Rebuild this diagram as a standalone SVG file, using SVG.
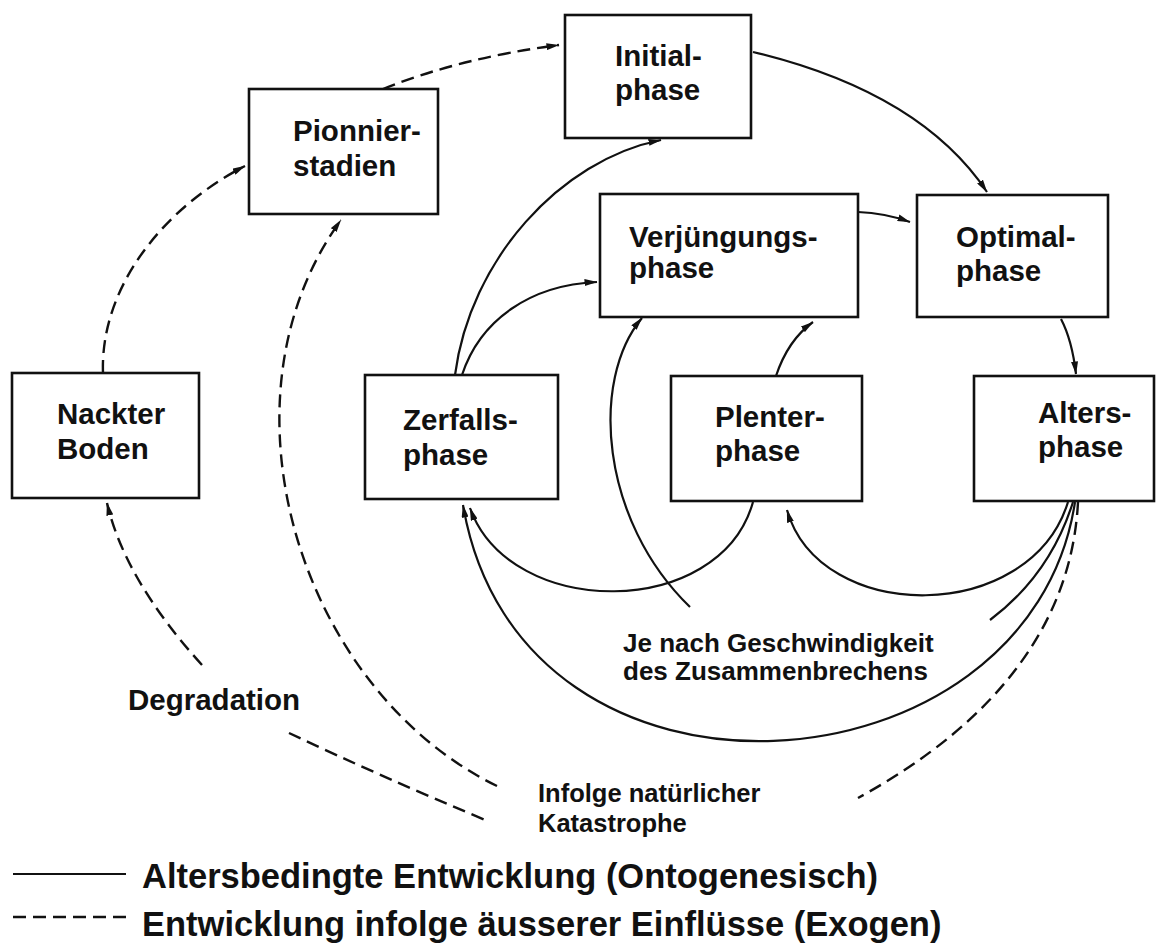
<svg xmlns="http://www.w3.org/2000/svg" width="1158" height="943" viewBox="0 0 1158 943">
<defs>
<marker id="arr" viewBox="0 0 13 7" refX="12.5" refY="3.5" markerWidth="13" markerHeight="7" markerUnits="userSpaceOnUse" orient="auto">
<path d="M0,0 L13,3.5 L0,7 Z" fill="#111"/>
</marker>
</defs>
<style>
.box{fill:#fff;stroke:#111;stroke-width:2.6}
.nt{font-family:"Liberation Sans",Arial,sans-serif;font-weight:bold;font-size:29.5px;fill:#111}
.lbl{font-family:"Liberation Sans",Arial,sans-serif;font-weight:bold;fill:#111}
.s{fill:none;stroke:#111;stroke-width:2.2}
.d{fill:none;stroke:#111;stroke-width:2.4;stroke-dasharray:13 7}
.a{marker-end:url(#arr)}
</style>
<rect width="1158" height="943" fill="#fff"/>
<g id="connectors">
<path class="d a" d="M383,89 Q460,58 559,45"/>
<path class="d a" d="M103,373 C100,290 160,210 245,166"/>
<path class="d a" d="M497,786 C300,690 210,400 341,220"/>
<path class="d a" d="M202,665 Q125,580 107,503"/>
<path class="d" d="M289,733 Q380,776 490,822"/>
<path class="d" d="M1078,502 C1072,620 1000,720 858,798"/>
<path class="s a" d="M753,52 Q920,92 987,192"/>
<path class="s a" d="M858,212 Q885,213 910,222"/>
<path class="s a" d="M1061,319 Q1072,340 1076,374"/>
<path class="s a" d="M455,375 C470,260 560,160 661,140"/>
<path class="s a" d="M462,375 C480,320 530,285 597,282"/>
<path class="s a" d="M776,376 Q788,340 813,322"/>
<path class="s a" d="M690,607 C600,520 590,380 642,318"/>
<path class="s a" d="M753,502 C720,620 510,620 470,508"/>
<path class="s a" d="M1068,502 C1030,625 820,625 787,510"/>
<path class="s" d="M1073,502 Q1050,575 990,620"/>
<path class="s a" d="M1075,502 C1030,800 520,840 463,505"/>
</g>
<g id="initial">
<rect class="box" x="565" y="15" width="186" height="123"/>
<text class="nt" x="615" y="66">Initial-</text>
<text class="nt" x="615" y="100">phase</text>
</g>
<g id="pionnier">
<rect class="box" x="249" y="89" width="189" height="125"/>
<text class="nt" x="293" y="141">Pionnier-</text>
<text class="nt" x="293" y="176">stadien</text>
</g>
<g id="verjuengung">
<rect class="box" x="600" y="194" width="258" height="123"/>
<text class="nt" x="629" y="247">Verjüngungs-</text>
<text class="nt" x="629" y="278">phase</text>
</g>
<g id="optimal">
<rect class="box" x="917" y="195" width="191" height="122"/>
<text class="nt" x="956" y="247">Optimal-</text>
<text class="nt" x="956" y="281">phase</text>
</g>
<g id="nackter">
<rect class="box" x="12" y="373" width="187" height="125"/>
<text class="nt" x="57" y="424">Nackter</text>
<text class="nt" x="57" y="459">Boden</text>
</g>
<g id="zerfall">
<rect class="box" x="365" y="375" width="193" height="124"/>
<text class="nt" x="403" y="430">Zerfalls-</text>
<text class="nt" x="403" y="465">phase</text>
</g>
<g id="plenter">
<rect class="box" x="671" y="376" width="191" height="125"/>
<text class="nt" x="715" y="427">Plenter-</text>
<text class="nt" x="715" y="461">phase</text>
</g>
<g id="alters">
<rect class="box" x="974" y="376" width="180" height="125"/>
<text class="nt" x="1038" y="423">Alters-</text>
<text class="nt" x="1038" y="457">phase</text>
</g>
<g id="labels">
<text class="lbl" x="128" y="710" font-size="29.5">Degradation</text>
<text class="lbl" x="623" y="652" font-size="26">Je nach Geschwindigkeit</text>
<text class="lbl" x="623" y="680" font-size="26">des Zusammenbrechens</text>
<text class="lbl" x="538" y="802" font-size="25.5">Infolge natürlicher</text>
<text class="lbl" x="538" y="832" font-size="25.5">Katastrophe</text>
</g>
<g id="legend">
<line class="s" x1="13" y1="874" x2="126" y2="874"/>
<line class="d" x1="13" y1="917" x2="126" y2="917"/>
<text class="lbl" x="142" y="888" font-size="34.5">Altersbedingte Entwicklung (Ontogenesisch)</text>
<text class="lbl" x="142" y="936" font-size="34.5">Entwicklung infolge äusserer Einflüsse (Exogen)</text>
</g>
</svg>
